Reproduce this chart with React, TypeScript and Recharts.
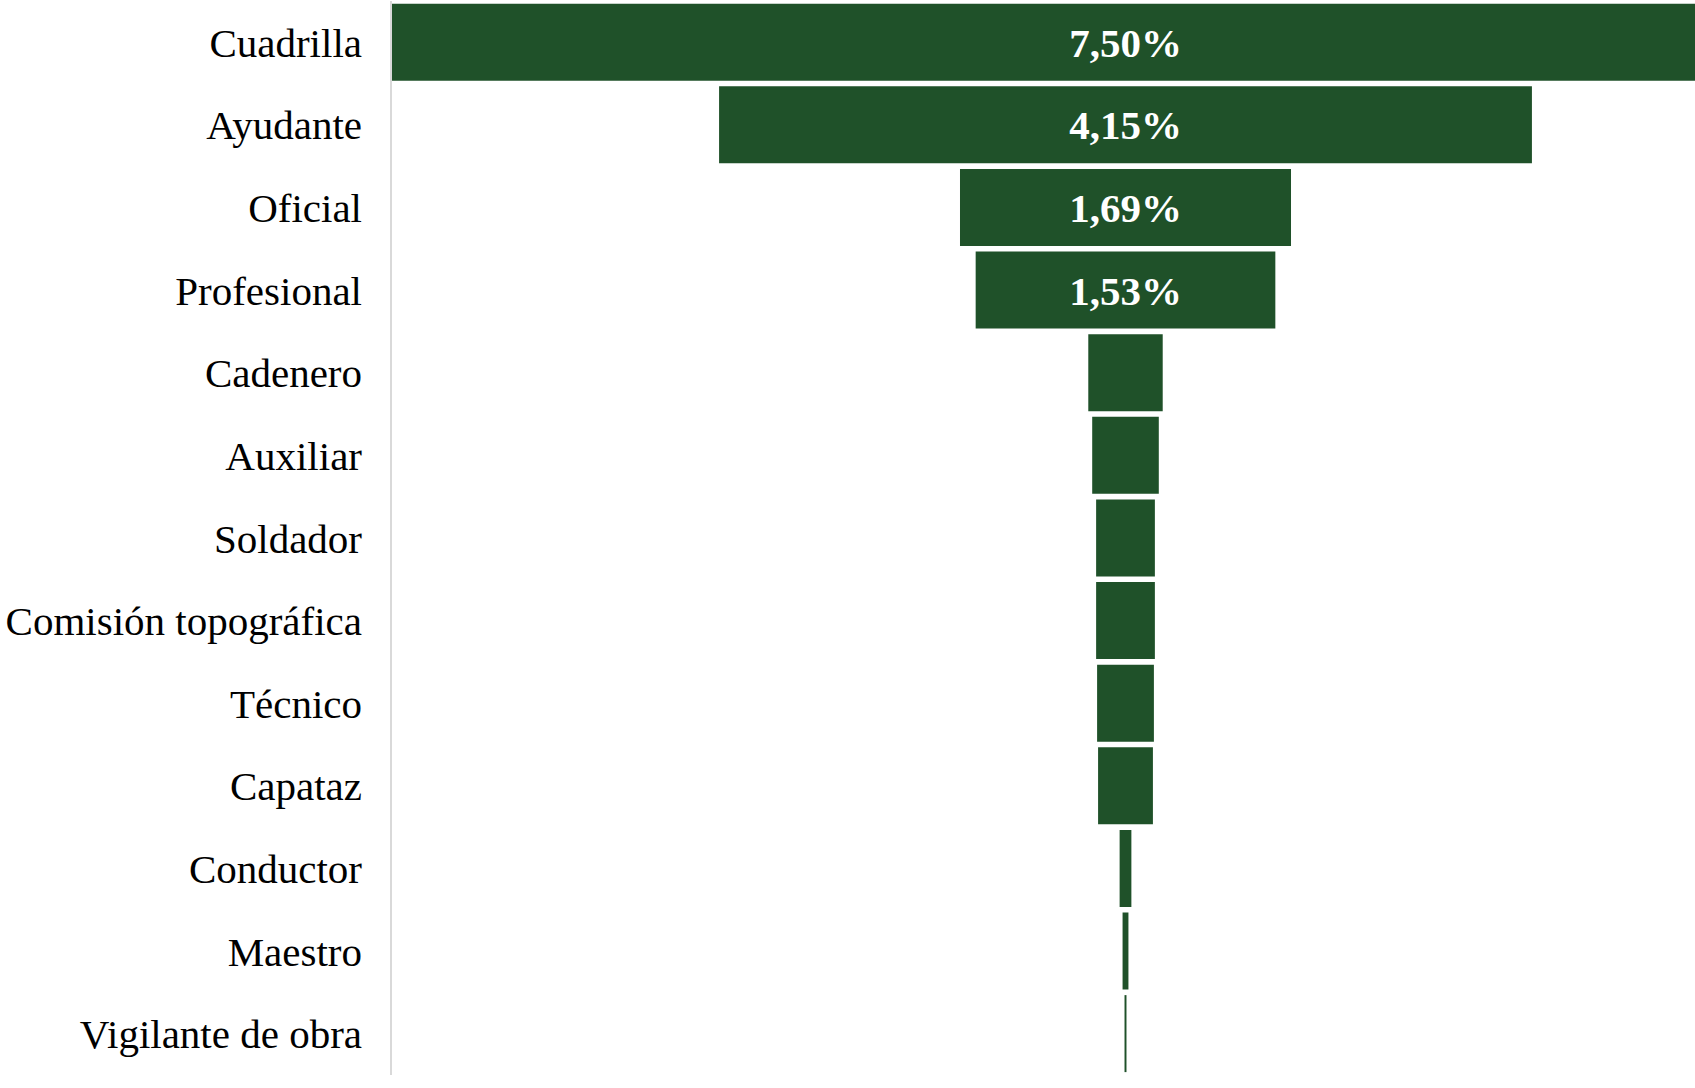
import React from 'react';
import { BarChart, Bar, XAxis, YAxis, LabelList } from 'recharts';

const categories = [
  'Cuadrilla',
  'Ayudante',
  'Oficial',
  'Profesional',
  'Cadenero',
  'Auxiliar',
  'Soldador',
  'Comisión topográfica',
  'Técnico',
  'Capataz',
  'Conductor',
  'Maestro',
  'Vigilante de obra',
];

const shares = [7.5, 4.15, 1.69, 1.53, 0.38, 0.34, 0.3, 0.3, 0.29, 0.28, 0.06, 0.03, 0.01];

const maxShare = Math.max(...shares);

// funnel: an invisible offset bar pushes each visible bar to the centre
const rows = categories.map((name, i) => ({
  name,
  pad: (maxShare - shares[i]) / 2,
  value: shares[i],
}));

const GREEN = '#1F5129';
const FONT = '"Liberation Serif", "Times New Roman", serif';

const fmt = (v: number) => (v >= 1 ? `${v.toFixed(2).replace('.', ',')}%` : '');

export default function App() {
  return (
    <div
      style={{
        position: 'fixed',
        left: 0,
        top: 0,
        width: 1695,
        height: 1088,
        overflow: 'hidden',
        background: '#fff',
      }}
    >
      <BarChart
        width={1860}
        height={1088}
        data={rows}
        layout="vertical"
        margin={{ top: 1, right: 0, bottom: 13, left: 0 }}
        barCategoryGap="3.3%"
      >
        <XAxis type="number" domain={[0, maxShare]} hide />
        <YAxis
          type="category"
          dataKey="name"
          width={391}
          tickLine={false}
          tickSize={0}
          tickMargin={29}
          axisLine={{ stroke: '#d9d9d9', strokeWidth: 2 }}
          tick={{ fill: '#000', fontSize: 41, fontFamily: FONT }}
          interval={0}
        />
        <Bar dataKey="pad" stackId="f" fill="transparent" isAnimationActive={false} />
        <Bar dataKey="value" stackId="f" fill={GREEN} isAnimationActive={false}>
          <LabelList
            dataKey="value"
            position="center"
            formatter={(v: any) => fmt(Number(v))}
            fill="#fff"
            style={{ fontSize: 41, fontWeight: 'bold', fontFamily: FONT }}
          />
        </Bar>
      </BarChart>
    </div>
  );
}
